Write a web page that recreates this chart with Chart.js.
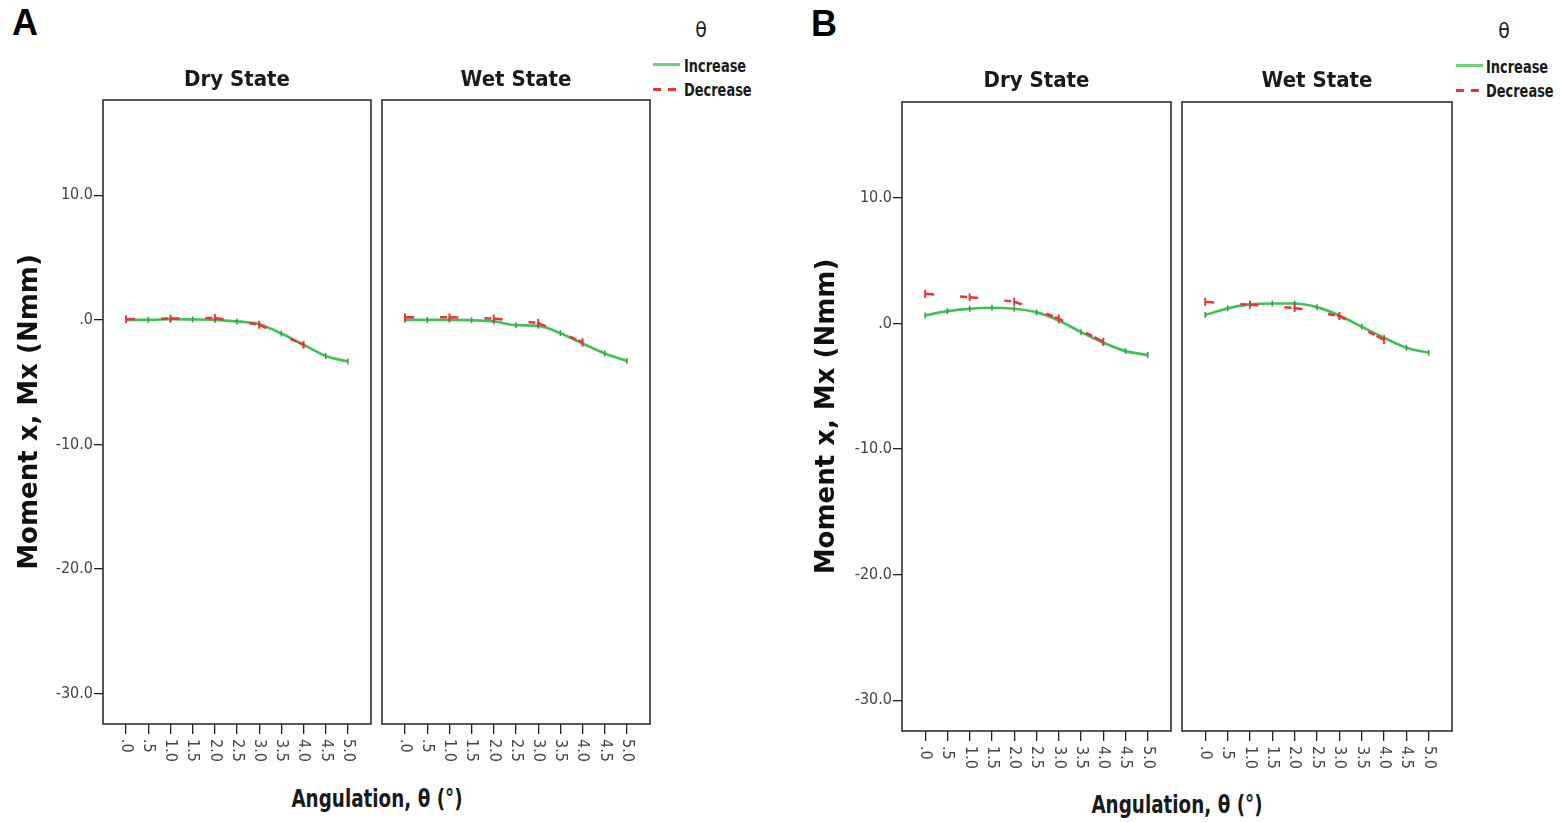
<!DOCTYPE html>
<html>
<head>
<meta charset="utf-8">
<script src="https://cdn.jsdelivr.net/npm/chart.js@4.4.0/dist/chart.umd.min.js"></script>
<style>
  body { margin: 0; background: #fff; width: 1560px; height: 822px; position: relative; overflow: hidden; }
  canvas { position: absolute; }
  .txt { position: absolute; white-space: nowrap; color: #1a1a1a; font-family: "Liberation Sans Narrow", "DejaVu Sans Condensed", sans-serif; }
  .letter { position: absolute; font: bold 36px "Liberation Sans", Arial, sans-serif; color: #000; }
  .xtitle { font-weight: bold; font-size: 24px; transform: translate(-50%, -50%) scaleX(0.85); }
  .theta { font-size: 21px; transform: translate(-50%, -50%); }
  .legtext { font-weight: bold; font-size: 18px; transform-origin: left center; transform: translateY(-50%) scaleX(0.8); }
  .swatch { position: absolute; height: 3px; }
</style>
</head>
<body>
<div class="letter" style="left:12px;top:2px">A</div>
<div class="letter" style="left:811px;top:3px">B</div>

<div class="txt theta" style="left:701px;top:30px">θ</div>
<div class="swatch" style="left:653px;top:63px;width:27px;background:#6fd07a"></div>
<div class="swatch" style="left:653px;top:88px;width:8px;background:#e8353c"></div>
<div class="swatch" style="left:668px;top:88px;width:8px;background:#e8353c"></div>
<div class="txt legtext" style="left:684px;top:65px">Increase</div>
<div class="txt legtext" style="left:684px;top:89px">Decrease</div>

<div class="txt theta" style="left:1504px;top:31px">θ</div>
<div class="swatch" style="left:1456px;top:64px;width:27px;background:#6fd07a"></div>
<div class="swatch" style="left:1456px;top:89px;width:8px;background:#e8353c"></div>
<div class="swatch" style="left:1471px;top:89px;width:8px;background:#e8353c"></div>
<div class="txt legtext" style="left:1486px;top:66px">Increase</div>
<div class="txt legtext" style="left:1486px;top:90px">Decrease</div>

<div class="txt xtitle" style="left:377px;top:799px">Angulation, θ (°)</div>
<div class="txt xtitle" style="left:1177px;top:805px">Angulation, θ (°)</div>

<canvas id="aDry"></canvas>
<canvas id="aWet"></canvas>
<canvas id="bDry"></canvas>
<canvas id="bWet"></canvas>

<script>
// angle categories (deg) and y ticks
const angles = [0, 0.5, 1, 1.5, 2, 2.5, 3, 3.5, 4, 4.5, 5];
const decAngles = [0, 1, 2, 3, 4];
const yTickValues = [-30, -20, -10, 0, 10];
const yMin = -32.45, yMax = 17.65;
const xMin = -0.52, xMax = 5.52;

// Moment x (Nmm)
const aDryInc = [0, 0, 0.05, 0.03, 0, -0.13, -0.35, -1.1, -2.0, -2.9, -3.35];
const aDryDec = [0.05, 0.1, 0.15, -0.4, -2.0];
const aWetInc = [0, 0, 0, -0.03, -0.13, -0.43, -0.48, -1.07, -1.9, -2.7, -3.3];
const aWetDec = [0.2, 0.2, 0.1, -0.25, -1.8];
const bDryInc = [0.65, 0.99, 1.18, 1.26, 1.18, 0.89, 0.25, -0.68, -1.52, -2.19, -2.5];
const bDryDec = [2.37, 2.1, 1.75, 0.4, -1.45];
const bWetInc = [0.68, 1.21, 1.53, 1.6, 1.6, 1.31, 0.65, -0.25, -1.13, -1.92, -2.32];
const bWetDec = [1.73, 1.5, 1.25, 0.6, -1.3];

const GREEN = "#43c057";
const RED = "#e8353c";
const NARROW = "'Liberation Sans Narrow', 'DejaVu Sans Condensed', sans-serif";

// SPSS style: .0, .5, 1.0, -10.0
const fmt = v => Number(v).toFixed(1).replace(/^(-?)0\./, "$1.");

const boxPlugin = {
    id: "box",
    afterDraw(chart) {
        const {ctx, chartArea: a} = chart;
        ctx.save();
        ctx.strokeStyle = "#222";
        ctx.lineWidth = 1.5;
        ctx.strokeRect(a.left, a.top, a.right - a.left, a.bottom - a.top);
        ctx.restore();
    }
};

// x labels read top-to-bottom, starting under the tick
const rotatedTicks = {
    id: "rotatedTicks",
    afterDraw(chart) {
        const sc = chart.scales.x, ctx = chart.ctx;
        ctx.save();
        ctx.font = `16px ${NARROW}`;
        ctx.fillStyle = "#444";
        ctx.textAlign = "left";
        ctx.textBaseline = "middle";
        sc.ticks.forEach(t => {
            ctx.save();
            ctx.translate(sc.getPixelForValue(t.value), sc.top + 15);
            ctx.rotate(Math.PI / 2);
            ctx.fillText(fmt(t.value), 0, 0);
            ctx.restore();
        });
        ctx.restore();
    }
};

function makePanel(p) {
    const canvas = document.getElementById(p.id);
    const canvasLeft = p.yAxis ? p.left - p.yW : p.left - 4;
    const canvasTop = p.titleY - 13;
    const w = p.right + 4 - canvasLeft;
    const h = p.bottom + 50 - canvasTop;
    canvas.width = w; canvas.height = h;
    canvas.style.left = canvasLeft + "px";
    canvas.style.top = canvasTop + "px";

    new Chart(canvas, {
        type: "line",
        data: {
            datasets: [{
                label: "Decrease",
                data: decAngles.map((x, i) => ({x, y: p.dec[i]})),
                borderColor: RED,
                borderWidth: 2.5,
                borderDash: [9, 26, 7, 2.3],
                tension: 0,
                pointStyle: "line",
                pointRotation: 90,
                pointRadius: 4,
                pointBorderWidth: 2,
                pointBorderColor: RED
            }, {
                label: "Increase",
                data: angles.map((x, i) => ({x, y: p.inc[i]})),
                borderColor: GREEN,
                borderWidth: 2.7,
                cubicInterpolationMode: "monotone",
                pointStyle: "line",
                pointRotation: 90,
                pointRadius: 3,
                pointBorderWidth: 1.5,
                pointBorderColor: "#2f9f43"
            }]
        },
        options: {
            responsive: false,
            animation: false,
            devicePixelRatio: 1,
            layout: { autoPadding: false, padding: { left: p.yAxis ? 0 : 4, right: 4, top: 0, bottom: 0 } },
            plugins: {
                legend: { display: false },
                tooltip: { enabled: false },
                title: {
                    display: true,
                    fullSize: false,
                    text: p.title,
                    color: "#1a1a1a",
                    font: { family: NARROW, size: 22, weight: "bold" },
                    padding: { top: 0, bottom: p.top - canvasTop - 26.4 }
                }
            },
            scales: {
                x: {
                    type: "linear",
                    min: xMin, max: xMax,
                    afterBuildTicks: s => { s.ticks = angles.map(v => ({value: v})); },
                    afterFit: s => { s.height = 50; },
                    ticks: { display: false },
                    grid: { drawOnChartArea: false, drawTicks: true, tickLength: 10, color: "#222", lineWidth: 1.3 },
                    border: { display: false }
                },
                y: {
                    display: p.yAxis,
                    min: yMin, max: yMax,
                    afterBuildTicks: s => { s.ticks = yTickValues.map(v => ({value: v})); },
                    afterFit: s => { if (p.yAxis) s.width = p.yW; },
                    ticks: { callback: fmt, color: "#444", padding: 1, font: { family: NARROW, size: 16 } },
                    grid: { drawOnChartArea: false, tickLength: 9, color: "#222", lineWidth: 1.3 },
                    border: { display: false },
                    title: {
                        display: true,
                        text: "Moment x, Mx (Nmm)",
                        color: "#111",
                        font: { family: "'DejaVu Sans', sans-serif", size: 26, weight: "bold" },
                        padding: { top: p.yTitlePad, bottom: 0 }
                    }
                }
            }
        },
        plugins: [boxPlugin, rotatedTicks]
    });
}

[
    { id: "aDry", left: 103, right: 371, top: 100, bottom: 724, titleY: 80, title: "Dry State", inc: aDryInc, dec: aDryDec, yAxis: true, yW: 103, yTitlePad: 15 },
    { id: "aWet", left: 382, right: 650, top: 100, bottom: 724, titleY: 80, title: "Wet State", inc: aWetInc, dec: aWetDec, yAxis: false },
    { id: "bDry", left: 902, right: 1171, top: 102, bottom: 731, titleY: 81, title: "Dry State", inc: bDryInc, dec: bDryDec, yAxis: true, yW: 102, yTitlePad: 12 },
    { id: "bWet", left: 1182, right: 1452, top: 102, bottom: 731, titleY: 81, title: "Wet State", inc: bWetInc, dec: bWetDec, yAxis: false }
].forEach(makePanel);
</script>
</body>
</html>
